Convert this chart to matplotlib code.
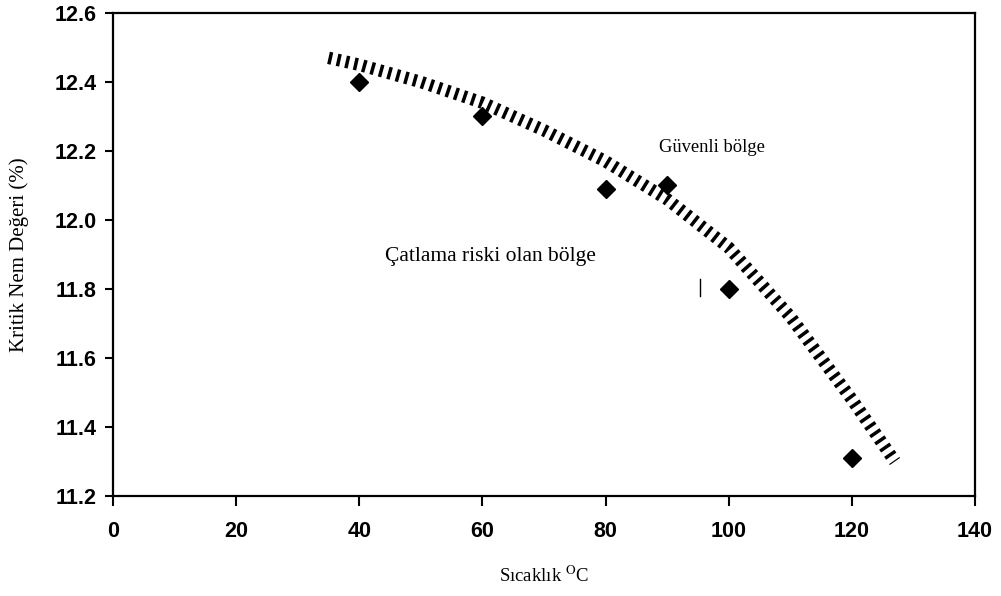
import matplotlib
matplotlib.use("Agg")
import matplotlib.pyplot as plt

# olculen noktalar
sicaklik = [40, 60, 80, 90, 100, 120]
nem = [12.40, 12.30, 12.09, 12.10, 11.80, 11.31]

# sinir egrisi
egri_x = [35, 40, 50, 60, 70, 80, 90, 100, 110, 120, 127]
egri_y = [12.47, 12.45, 12.40, 12.34, 12.26, 12.17, 12.06, 11.92, 11.72, 11.48, 11.30]

x_ticks = [0, 20, 40, 60, 80, 100, 120, 140]
y_ticks = [11.2, 11.4, 11.6, 11.8, 12.0, 12.2, 12.4, 12.6]

plt.rcParams['mathtext.fontset'] = 'stix'

fig = plt.figure(figsize=(10.01, 5.96), dpi=100)
ax = fig.add_axes([0.1129, 0.1678, 0.8611, 0.8104])

ax.plot(egri_x, egri_y, color="black", linewidth=9, solid_capstyle="butt",
        dash_capstyle="butt", dashes=(0.28, 0.42))
ax.plot(sicaklik, nem, linestyle="none", marker="D", markersize=9.5, color="black")
ax.plot([95.3, 95.3], [11.78, 11.83], color="black", linewidth=1)

ax.text(97.3, 12.21, "Güvenli bölge", fontsize=13.3, family="Liberation Serif",
        ha="center", va="center")
ax.text(61.3, 11.893, "Çatlama riski olan bölge", fontsize=15.5, family="Liberation Serif",
        ha="center", va="center")

ax.set_xlim(0, 140)
ax.set_ylim(11.2, 12.6)
ax.set_xticks(x_ticks)
ax.set_yticks(y_ticks)
ax.set_xticklabels([str(v) for v in x_ticks])
ax.set_yticklabels(["%.1f" % v for v in y_ticks])
for lab in ax.get_xticklabels() + ax.get_yticklabels():
    lab.set_family("Liberation Sans")
    lab.set_fontweight("bold")
    lab.set_fontsize(15.5)

ax.tick_params(axis="x", direction="out", length=7, width=1.5, pad=11)
ax.tick_params(axis="y", direction="out", length=6, width=1.5, pad=6)
for s in ax.spines.values():
    s.set_linewidth(1.6)

ax.set_xlabel("Sıcaklık $^{\\mathrm{O}}$C", fontsize=13.5, family="Liberation Serif", labelpad=17)
ax.set_ylabel("Kritik Nem Değeri (%)", fontsize=15, family="Liberation Serif", labelpad=18)

fig.savefig("out.png", dpi=100)
